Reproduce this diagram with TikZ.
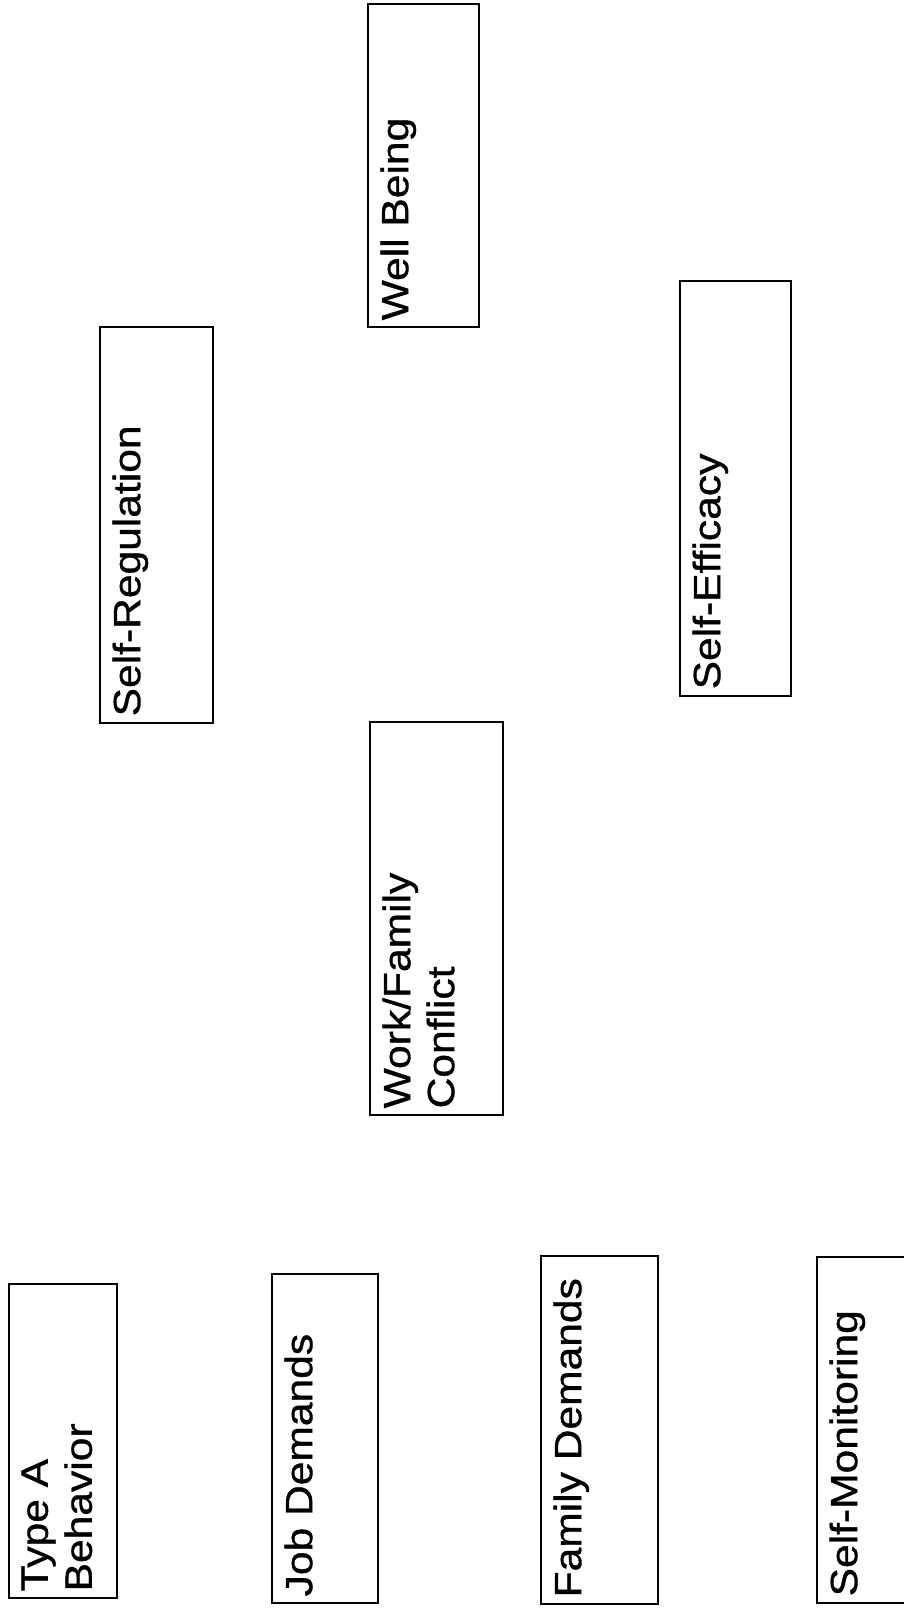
\documentclass[tikz,border=0pt]{standalone}
\usepackage{fontspec}
\setmainfont{Liberation Sans}
\newfontfamily\scanfont[FakeStretch=1.12, FakeBold=0.9]{Liberation Sans}
\usepackage{tikz}
\usetikzlibrary{positioning}

\begin{document}
\begin{tikzpicture}[
    x=1pt, y=-1pt,
    box/.style={draw, rectangle, line width=1.1pt, inner sep=0pt},
    lbl/.style={rotate=90, anchor=north west, align=left, inner xsep=7pt, inner ysep=13pt,
                font=\scanfont\fontsize{38}{44}\selectfont}
]
    \clip (0,0) rectangle (904,1608);

    % Boxes
    \node[box, minimum width=111pt, minimum height=323pt] (wellbeing) at (423.5,165.5) {};
    \node[box, minimum width=113pt, minimum height=396pt] (selfreg) at (156.5,525) {};
    \node[box, minimum width=111pt, minimum height=415pt] (selfeff) at (735.5,488.5) {};
    \node[box, minimum width=133pt, minimum height=393pt] (wfconflict) at (436.5,918.5) {};
    \node[box, minimum width=108pt, minimum height=314pt] (typea) at (63,1441) {};
    \node[box, minimum width=106pt, minimum height=329pt] (jobdem) at (325,1438.5) {};
    \node[box, minimum width=117pt, minimum height=348pt] (famdem) at (599.5,1430) {};
    \node[box, minimum width=113pt, minimum height=346pt] (selfmon) at (873.5,1430) {};

    % Labels
    \node[lbl] (wellbeing-txt) at (wellbeing.south west) {Well Being};
    \node[lbl] (selfreg-txt) at (selfreg.south west) {Self-Regulation};
    \node[lbl] (selfeff-txt) at (selfeff.south west) {Self-Efficacy};
    \node[lbl] (wfconflict-txt) at (wfconflict.south west) {Work/Family\\Conflict};
    \node[lbl] (typea-txt) at (typea.south west) {Type A\\Behavior};
    \node[lbl] (jobdem-txt) at (jobdem.south west) {Job Demands};
    \node[lbl] (famdem-txt) at (famdem.south west) {Family Demands};
    \node[lbl] (selfmon-txt) at (selfmon.south west) {Self-Monitoring};
\end{tikzpicture}
\end{document}
